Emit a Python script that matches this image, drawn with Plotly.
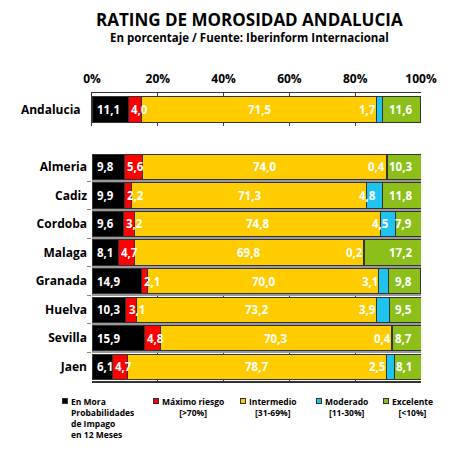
import plotly.graph_objects as go

# datos (porcentajes)
segmentos = ["En Mora", "Máximo riesgo", "Intermedio", "Moderado", "Excelente"]
colores = ["#000000", "#ff0000", "#ffcc00", "#1ec3f0", "#8cbf1a"]
leyenda = [
    "En Mora<br>Probabilidades<br>de Impago<br>en 12 Meses",
    "Máximo riesgo<br>[>70%]",
    "Intermedio<br>[31-69%]",
    "Moderado<br>[11-30%]",
    "Excelente<br>[<10%]",
]

total_nombre = ["Andalucia"]
total_valores = [11.1, 4.0, 71.5, 1.7, 11.6]

provincias = ["Almeria", "Cadiz", "Cordoba", "Malaga", "Granada", "Huelva", "Sevilla", "Jaen"]
en_mora = [9.8, 9.9, 9.6, 8.1, 14.9, 10.3, 15.9, 6.1]
maximo = [5.6, 2.2, 3.2, 4.7, 2.1, 3.1, 4.8, 4.7]
intermedio = [74.0, 71.3, 74.8, 69.8, 70.0, 73.2, 70.3, 78.7]
moderado = [0.4, 4.8, 4.5, 0.2, 3.1, 3.9, 0.4, 2.5]
excelente = [10.3, 11.8, 7.9, 17.2, 9.8, 9.5, 8.7, 8.1]

ticks = [0, 20, 40, 60, 80, 100]
tick_text = ["0%", "20%", "40%", "60%", "80%", "100%"]

FONT = "Open Sans"
BORDE = "#333333"


def fmt(v):
    return f"{v:.1f}".replace(".", ",")


def etiquetas(fila, idx, xref, yref):
    # coloca los numeros de cada tramo como en el original
    out = []
    inicio = 0
    for k, v in enumerate(fila):
        centro = inicio + v / 2
        if k == 0:
            x, anchor = inicio + 1.0, "left"
        elif k == 1:
            x, anchor = inicio + 0.2, "left"
        elif k == 2:
            x, anchor = centro, "center"
        elif k == 3:
            x, anchor = (inicio + 0.75 * v, "right") if v >= 4 else (inicio + 0.4, "right")
        else:
            x, anchor = 97.8, "right"
        out.append(dict(
            x=x, y=idx, xref=xref, yref=yref, text=fmt(v), showarrow=False,
            xanchor=anchor, yanchor="middle",
            font=dict(family=FONT, size=11.5, color="white", weight="bold"),
        ))
        inicio += v
    return out


fig = go.Figure()
anotaciones = []

# fila de Andalucia (subgrafico superior)
for k, nombre in enumerate(segmentos):
    fig.add_trace(go.Bar(
        x=[total_valores[k]], y=total_nombre, orientation="h", name=nombre,
        marker=dict(color=colores[k], line=dict(color=BORDE, width=1)),
        width=0.8, xaxis="x", yaxis="y", showlegend=False, hoverinfo="skip",
    ))
anotaciones += etiquetas(total_valores, 0, "x", "y")

# provincias (subgrafico inferior)
series = [en_mora, maximo, intermedio, moderado, excelente]
for k, nombre in enumerate(segmentos):
    fig.add_trace(go.Bar(
        x=series[k], y=provincias, orientation="h", name=nombre,
        marker=dict(color=colores[k], line=dict(color=BORDE, width=1)),
        width=0.88, xaxis="x2", yaxis="y2", showlegend=False, hoverinfo="skip",
    ))
for i in range(len(provincias)):
    fila = [s[i] for s in series]
    anotaciones += etiquetas(fila, i, "x2", "y2")

# titulos
anotaciones.append(dict(
    x=0.48, y=1.2552, xref="paper", yref="paper", showarrow=False,
    text="RATING DE MOROSIDAD ANDALUCIA", yanchor="middle", borderpad=0,
    font=dict(family=FONT, size=17, color="black", weight="bold"),
))
anotaciones.append(dict(
    x=0.48, y=1.191, xref="paper", yref="paper", showarrow=False,
    text="En porcentaje / Fuente: Iberinform Internacional", yanchor="middle",
    borderpad=0,
    font=dict(family=FONT, size=11.5, color="black", weight="bold"),
))

# leyenda manual
ley_x = [-0.091, 0.185, 0.45, 0.681, 0.884]
for k in range(len(segmentos)):
    anotaciones.append(dict(
        x=ley_x[k], y=-0.058, xref="paper", yref="paper", showarrow=False,
        text=" ", width=4, height=4, bgcolor=colores[k], bordercolor=BORDE,
        borderwidth=1, borderpad=0, xanchor="left", yanchor="top",
        font=dict(size=2),
    ))
    anotaciones.append(dict(
        x=ley_x[k], y=-0.045, xref="paper", yref="paper", showarrow=False,
        text=leyenda[k], xanchor="left", yanchor="top", xshift=7,
        align="left" if k == 0 else "center",
        font=dict(family=FONT, size=8.5, color="black", weight="bold"),
    ))

# la pagina desplaza la figura unos 8 px, por eso los margenes van corridos
fig.update_layout(
    width=450, height=471,
    margin=dict(l=84, r=37, t=85, b=98),
    paper_bgcolor="white", plot_bgcolor="white",
    barmode="stack",
    annotations=anotaciones,
    xaxis=dict(
        range=[0, 100], side="top", anchor="y", tickvals=ticks, ticktext=tick_text,
        showline=True, linecolor=BORDE, linewidth=1,
        showgrid=True, gridcolor="#444444", gridwidth=1, zeroline=False,
        tickfont=dict(family=FONT, size=12, color="black", weight="bold"),
        ticklabelstandoff=4,
    ),
    yaxis=dict(
        domain=[0.885, 1], anchor="x", type="category", range=[-0.5, 0.5],
        showgrid=False, showline=True, linecolor=BORDE, ticks="",
        ticklabelstandoff=8,
        tickfont=dict(family=FONT, size=12, color="black", weight="bold"),
    ),
    xaxis2=dict(
        range=[0, 100], anchor="y2", tickvals=ticks,
        showticklabels=False, showline=True, linecolor=BORDE, linewidth=1.5,
        showgrid=True, gridcolor="#444444", gridwidth=1, zeroline=False,
    ),
    yaxis2=dict(
        domain=[0, 0.788], anchor="x2", type="category",
        categoryarray=provincias, categoryorder="array", range=[7.5, -0.45],
        tickson="boundaries", ticks="outside", ticklen=4, tickcolor="#888888",
        showgrid=True, gridcolor="#999999", gridwidth=2, showline=False,
        ticklabelstandoff=4,
        tickfont=dict(family=FONT, size=12, color="black", weight="bold"),
    ),
)

fig.write_html("out.html")
